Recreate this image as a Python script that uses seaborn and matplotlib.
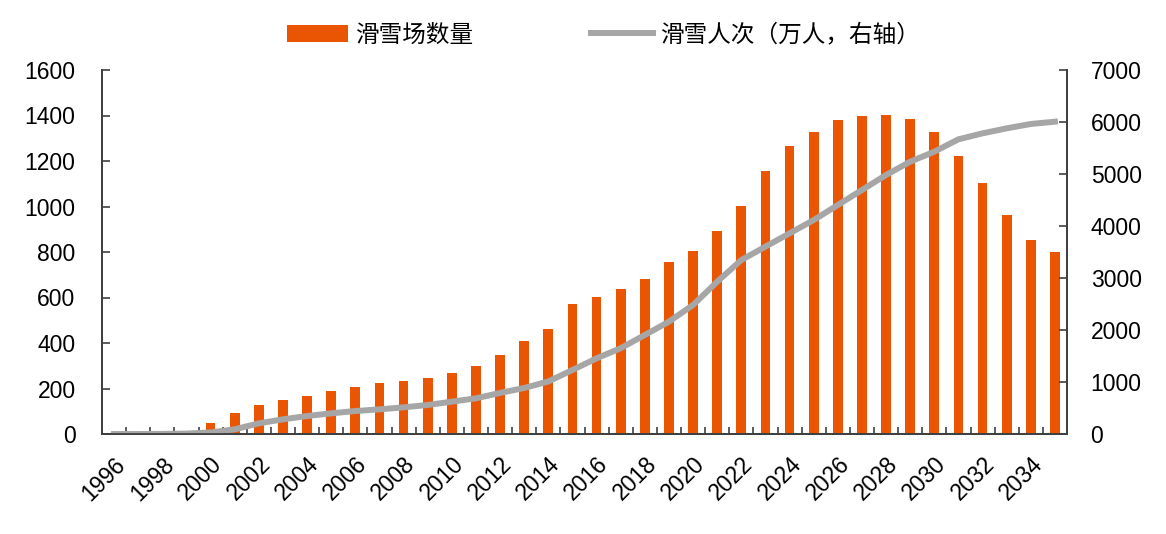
import numpy as np
import pandas as pd
import matplotlib
matplotlib.use('Agg')
import matplotlib.pyplot as plt
import seaborn as sns
from matplotlib.patches import Patch
from matplotlib.lines import Line2D

years = list(range(1996, 2036))
resorts = [5, 8, 10, 14, 47, 91, 127, 149, 168, 187,
           208, 223, 234, 246, 270, 299, 347, 407, 460, 570,
           601, 639, 683, 755, 806, 892, 1002, 1156, 1266, 1326,
           1380, 1396, 1402, 1386, 1326, 1223, 1103, 961, 853, 801]
visits = [0, 0, 2, 8, 30, 90, 205, 282, 346, 397,
          442, 474, 513, 558, 622, 686, 790, 885, 1010, 1231,
          1455, 1650, 1904, 2160, 2481, 2929, 3346, 3603, 3859, 4115,
          4404, 4692, 4981, 5237, 5429, 5667, 5782, 5878, 5962, 6006]
left_ticks = list(range(0, 1601, 200))
right_ticks = list(range(0, 7001, 1000))
label_bar = '滑雪场数量'
label_line = '滑雪人次（万人，右轴）'

ORANGE = '#EA5504'
GRAY = '#A6A6A6'
SPINE = '#404040'

plt.rcParams['font.family'] = ['Liberation Sans', 'Noto Sans CJK SC', 'DejaVu Sans']

df = pd.DataFrame({'year': [str(y) for y in years], 'resorts': resorts,
                   'pos': np.arange(len(years)), 'visits': visits})

fig, ax = plt.subplots(figsize=(11.66, 5.34), dpi=100)
fig.subplots_adjust(left=102/1166, right=1067/1166, bottom=1-434/534, top=1-70/534)

sns.barplot(data=df, x='year', y='resorts', color=ORANGE, width=0.4,
            saturation=1, edgecolor='none', ax=ax)
ax2 = ax.twinx()
sns.lineplot(data=df, x='pos', y='visits', color=GRAY, linewidth=4.3, ax=ax2)
ax2.xaxis.set_visible(False)

for a in (ax, ax2):
    a.set_xlabel('')
    a.set_ylabel('')
    a.spines['top'].set_visible(False)
    for s in ('left', 'right', 'bottom'):
        a.spines[s].set_color(SPINE)
        a.spines[s].set_linewidth(1.3)
    a.set_facecolor('none')

ax.set_ylim(0, 1600)
ax.set_yticks(left_ticks)
ax2.set_ylim(0, 7000)
ax2.set_yticks(right_ticks)

ax.set_xticks(np.arange(0, len(years), 2))
ax.set_xticklabels([str(y) for y in years[::2]], rotation=45, ha='right', va='top',
                   rotation_mode='anchor')
ax.set_xticks(np.arange(0.5, len(years) - 0.5, 1), minor=True)
ax.set_xlim(-0.5, len(years) - 0.5)
ax.tick_params(axis='x', which='major', length=0, pad=13.5, labelsize=16.5,
               labelcolor='black', bottom=True, labelbottom=True)
ax.tick_params(axis='x', which='minor', direction='in', length=5, width=1.2, color=SPINE,
               bottom=True)
ax.tick_params(axis='y', which='major', direction='in', length=6, width=1.2, color=SPINE,
               pad=19, labelsize=16.5, labelcolor='black', left=True)
ax2.tick_params(axis='y', which='major', direction='in', length=6, width=1.2, color=SPINE,
                pad=17, labelsize=16.5, labelcolor='black', right=True)

handles = [Patch(facecolor=ORANGE, edgecolor='none', label=label_bar),
           Line2D([], [], color=GRAY, linewidth=4.3, label=label_line)]
fig.legend(handles=handles, loc='center', bbox_to_anchor=(603/1166, 1-35/534), ncol=2,
           frameon=False, prop={'family': ['Noto Sans CJK SC'], 'size': 17},
           handlelength=2.6, handleheight=0.7, handletextpad=0.3, columnspacing=5)

fig.savefig('out.png', dpi=100)
